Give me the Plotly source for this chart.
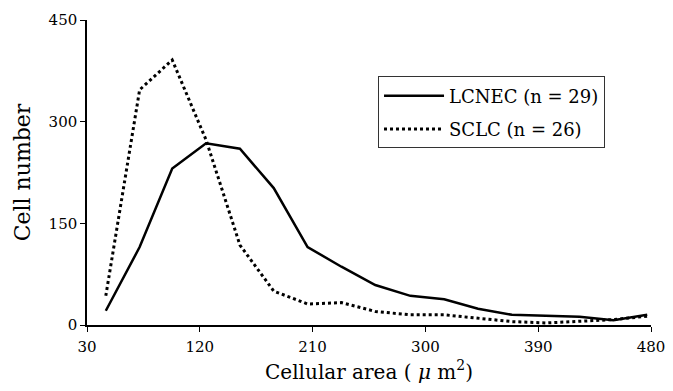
import plotly.graph_objects as go

area = [45, 72, 98, 125, 152, 179, 206, 233, 260, 288, 315, 342, 369, 396, 423, 450, 477]
lcnec = [21, 115, 231, 268, 260, 202, 115, 86, 59, 43, 38, 24, 15, 13, 12, 7, 15]
sclc = [43, 347, 391, 273, 118, 50, 31, 33, 20, 15, 15, 10, 5, 3, 6, 8, 13]
x_ticks = [30, 120, 210, 300, 390, 480]
y_ticks = [0, 150, 300, 450]

serif = "DejaVu Serif"

fig = go.Figure()
fig.add_trace(go.Scatter(x=area, y=lcnec, mode="lines", name="LCNEC (n = 29)",
                         legendgroup="a",
                         line=dict(color="black", width=2.5)))
fig.add_trace(go.Scatter(x=area, y=sclc, mode="lines", name="SCLC (n = 26)",
                         legendgroup="b",
                         line=dict(color="black", width=3, dash="dot")))

fig.update_layout(
    width=673, height=391,
    margin=dict(l=87, r=22, t=20, b=66),
    paper_bgcolor="white", plot_bgcolor="white",
    font=dict(family=serif, color="black", size=15),
    showlegend=True,
    legend=dict(x=0.516, y=0.815, xanchor="left", yanchor="top",
                bordercolor="#333", borderwidth=1, bgcolor="white",
                font=dict(size=18, family=serif, color="black"), itemwidth=60,
                traceorder="grouped", tracegroupgap=7),
    xaxis=dict(range=[30, 480], tickvals=x_ticks, showgrid=False, zeroline=False,
               showline=True, linecolor="black", linewidth=1.5, automargin=False,
               ticks="outside", ticklen=5, tickcolor="black", ticklabelstandoff=2,
               tickfont=dict(size=15, family=serif, color="black"),
               title=dict(text="Cellular area ( <i>μ</i> m<sup>2</sup>)",
                          font=dict(size=20, family=serif, color="black"), standoff=10)),
    yaxis=dict(range=[0, 450], tickvals=y_ticks, showgrid=False, zeroline=False,
               showline=True, linecolor="black", linewidth=1.5, automargin=False,
               ticks="outside", ticklen=5, tickcolor="black",
               tickfont=dict(size=15, family=serif, color="black"),
               title=dict(text="Cell number", font=dict(size=22, family=serif, color="black"),
                          standoff=12)),
)

fig.write_html("out.html")
